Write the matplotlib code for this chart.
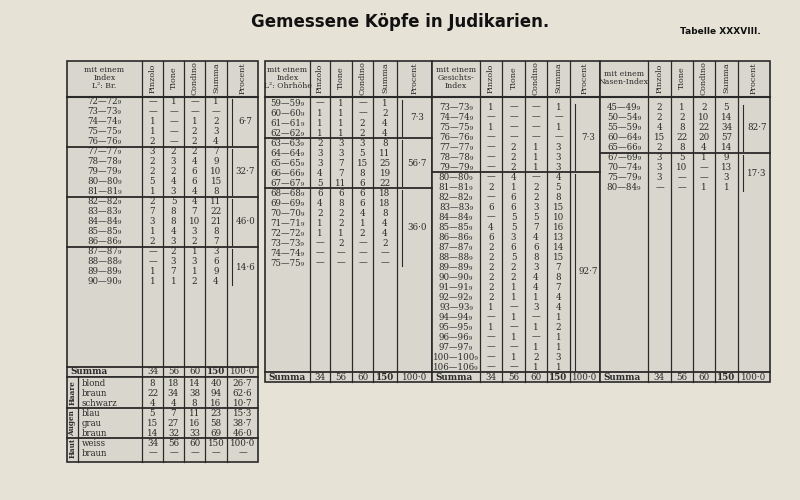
import matplotlib
matplotlib.use("Agg")
import matplotlib.pyplot as plt

D = None  # dash
cols = ["Pinzolo", "Tione", "Condino", "Summa", "Procent"]

# Panel 1: Längen-Breiten-Index
p1_labels = ["72—72₉","73—73₉","74—74₉","75—75₉","76—76₉","77—77₉","78—78₉","79—79₉","80—80₉","81—81₉",
             "82—82₉","83—83₉","84—84₉","85—85₉","86—86₉","87—87₉","88—88₉","89—89₉","90—90₉"]
p1_pinzolo = [D,D,1,1,2,3,2,2,5,1,2,7,3,1,2,D,D,1,1]
p1_tione   = [1,D,D,D,D,2,3,2,4,3,5,8,8,4,3,2,3,7,1]
p1_condino = [D,D,1,2,2,2,4,6,6,4,4,7,10,3,2,1,3,1,2]
p1_summa   = [1,D,2,3,4,7,9,10,15,8,11,22,21,8,7,3,6,9,4]
p1_groups  = [5,5,5,4]
p1_proc    = ["6·7","32·7","46·0","14·6"]

# Panel 2: Längen-Ohrhöhen-Index
p2_labels = ["59—59₉","60—60₉","61—61₉","62—62₉","63—63₉","64—64₉","65—65₉","66—66₉","67—67₉",
             "68—68₉","69—69₉","70—70₉","71—71₉","72—72₉","73—73₉","74—74₉","75—75₉"]
p2_pinzolo = [D,1,1,1,2,3,3,4,5,6,4,2,1,1,D,D,D]
p2_tione   = [1,1,1,1,3,3,7,7,11,6,8,2,2,1,2,D,D]
p2_condino = [D,D,2,2,3,5,15,8,6,6,6,4,1,2,D,D,D]
p2_summa   = [1,2,4,4,8,11,25,19,22,18,18,8,4,4,2,D,D]
p2_groups  = [4,5,8]
p2_proc    = ["7·3","56·7","36·0"]

# Panel 3: Gesichts-Index
p3_labels = ["73—73₉","74—74₉","75—75₉","76—76₉","77—77₉","78—78₉","79—79₉","80—80₉","81—81₉","82—82₉",
             "83—83₉","84—84₉","85—85₉","86—86₉","87—87₉","88—88₉","89—89₉","90—90₉","91—91₉","92—92₉",
             "93—93₉","94—94₉","95—95₉","96—96₉","97—97₉","100—100₉","106—106₉"]
p3_pinzolo = [1,D,1,D,D,D,D,D,2,D,6,D,4,6,2,2,2,2,2,2,1,D,1,D,D,D,D]
p3_tione   = [D,D,D,D,2,2,2,4,1,6,6,5,5,3,6,5,2,2,1,1,D,1,D,1,D,1,D]
p3_condino = [D,D,D,D,1,1,1,D,2,2,3,5,7,4,6,8,3,4,4,1,3,D,1,D,1,2,1]
p3_summa   = [1,D,1,D,3,3,3,4,5,8,15,10,16,13,14,15,7,8,7,4,4,1,2,1,1,3,1]
p3_groups  = [7,20]
p3_proc    = ["7·3","92·7"]

# Panel 4: Nasen-Index
p4_labels = ["45—49₉","50—54₉","55—59₉","60—64₉","65—66₉","67—69₉","70—74₉","75—79₉","80—84₉"]
p4_pinzolo = [2,2,4,15,2,3,3,3,D]
p4_tione   = [1,2,8,22,8,5,10,D,D]
p4_condino = [2,10,22,20,4,1,D,D,1]
p4_summa   = [5,14,34,57,14,9,13,3,1]
p4_groups  = [5,4]
p4_proc    = ["82·7","17·3"]

summa_row = [34, 56, 60, 150, "100·0"]

extra_groups = ["Haare", "Augen", "Haut"]
extra_labels = [["blond","braun","schwarz"],["blau","grau","braun"],["weiss","braun"]]
extra_vals = [[[8,18,14,40,"26·7"],[22,34,38,94,"62·6"],[4,4,8,16,"10·7"]],
              [[5,7,11,23,"15·3"],[15,27,16,58,"38·7"],[14,32,33,69,"46·0"]],
              [[34,56,60,150,"100·0"],[D,D,D,D,D]]]

BG = "#e6e2d6"; CELL = "#d9d7cd"; INK = "#2a2a2a"
fig = plt.figure(figsize=(8,5), dpi=100, facecolor=BG)
ax = fig.add_axes([0,0,1,1]); ax.set_xlim(0,800); ax.set_ylim(500,0); ax.axis("off")
F = "DejaVu Serif"

def t(x,y,s,size=6.3,**kw):
    kw.setdefault("ha","center"); kw.setdefault("va","center")
    ax.text(x,y,s,fontsize=size,family=F,color=INK,**kw)

def fmt(v):
    return "—" if v is None else str(v)

def panel(xs, head, labels, series, groups, procs, y0, top, bottom, sum_y):
    x0, x1 = xs[0], xs[-1]
    ax.add_patch(plt.Rectangle((x0,top), x1-x0, sum_y+5-top, fc=CELL, ec=INK, lw=1.2))
    for xv in xs[1:-1]:
        ax.plot([xv,xv],[top,sum_y+5],color=INK,lw=0.9)
    ax.plot([x0,x1],[97,97],color=INK,lw=1.5)
    t((xs[0]+xs[1])/2, 78, head, 5.6, linespacing=1.0)
    for i,c in enumerate(cols):
        t((xs[i+1]+xs[i+2])/2, 78, c, 5.8, rotation=90)
    dy = 10
    r = 0
    for g, n in enumerate(groups):
        ys = [y0 + (r+k)*dy for k in range(n)]
        if g > 0:
            ax.plot([x0,x1],[ys[0]-5]*2,color=INK,lw=1.3)
        t((xs[-2]+xs[-1])/2+3, (ys[0]+ys[-1])/2, procs[g], 6.3)
        ax.plot([xs[-2]+5]*2,[ys[0]-3,ys[-1]+3],color=INK,lw=0.8)
        r += n
    for i,lab in enumerate(labels):
        y = y0 + i*dy
        t((xs[0]+xs[1])/2, y, lab, 6.2)
        for j,s in enumerate(series):
            t((xs[j+1]+xs[j+2])/2, y, fmt(s[i]), 6.3)
    ax.plot([x0,x1],[sum_y-5]*2,color=INK,lw=1.3)
    t(x0+3, sum_y, "Summa", 6.3, ha="left", weight="bold")
    for j,v in enumerate(summa_row):
        t((xs[j+1]+xs[j+2])/2, sum_y, str(v), 6.3, weight="bold" if j==3 else "normal")

panel([67,142,163,184,205,227,258], "mit einem\nIndex\nL²: Br.", p1_labels,
      [p1_pinzolo,p1_tione,p1_condino,p1_summa], p1_groups, p1_proc, 102, 61, 377, 372)
panel([265,310,330,352,373,397,432], "mit einem\nIndex\nL²: Ohrhöhe", p2_labels,
      [p2_pinzolo,p2_tione,p2_condino,p2_summa], p2_groups, p2_proc, 103, 61, 382, 377)
panel([432,480,502,525,547,570,600], "mit einem\nGesichts-\nIndex", p3_labels,
      [p3_pinzolo,p3_tione,p3_condino,p3_summa], p3_groups, p3_proc, 107, 61, 382, 377)
panel([600,648,671,693,715,738,770], "mit einem\nNasen-Index", p4_labels,
      [p4_pinzolo,p4_tione,p4_condino,p4_summa], p4_groups, p4_proc, 108, 61, 382, 377)

# Extra block under panel 1
xs = [67,142,163,184,205,227,258]
ax.add_patch(plt.Rectangle((67,377),191,85,fc=CELL,ec=INK,lw=1.2))
for xv in xs[1:-1]:
    ax.plot([xv,xv],[377,462],color=INK,lw=0.9)
ax.plot([78,78],[377,462],color=INK,lw=0.9)
y = 383
for g,(name,labs,vals) in enumerate(zip(extra_groups,extra_labels,extra_vals)):
    ys = [y+k*10 for k in range(len(labs))]
    if g > 0:
        ax.plot([67,258],[ys[0]-5]*2,color=INK,lw=1.3)
    t(72.5,(ys[0]+ys[-1])/2,name,5.2,rotation=90,weight="bold")
    for yy,lab,row in zip(ys,labs,vals):
        t(82,yy,lab,6.2,ha="left")
        for j,v in enumerate(row):
            t((xs[j+1]+xs[j+2])/2,yy,fmt(v),6.3)
    y = ys[-1]+10

ax.text(400,22,"Gemessene Köpfe in Judikarien.",fontsize=12,weight="bold",family="DejaVu Sans",ha="center",va="center",color="#111")
ax.text(720,32,"Tabelle XXXVIII.",fontsize=6.5,weight="bold",family="DejaVu Sans",ha="center",va="center",color="#111")

fig.savefig("out.png",dpi=100,facecolor=BG)
